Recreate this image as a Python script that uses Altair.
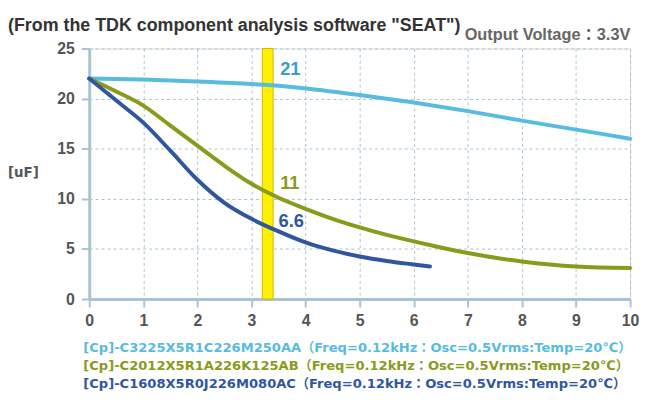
import altair as alt
import pandas as pd

# ---- data ----
series_names = [
    "[Cp]-C3225X5R1C226M250AA（Freq=0.12kHz：Osc=0.5Vrms:Temp=20℃）",
    "[Cp]-C2012X5R1A226K125AB（Freq=0.12kHz：Osc=0.5Vrms:Temp=20℃）",
    "[Cp]-C1608X5R0J226M080AC（Freq=0.12kHz：Osc=0.5Vrms:Temp=20℃）",
]
series_colors = ["#58bbe0", "#8a9a1a", "#2f57a0"]
label_colors = ["#3b9fc4", "#8a9a1a", "#2f57a0"]

s1_x = [0, 1, 2, 3, 3.3, 4, 5, 6, 7, 8, 9, 10]
s1_y = [22.0, 21.9, 21.7, 21.45, 21.35, 21.0, 20.35, 19.6, 18.75, 17.8, 16.9, 16.0]

s2_x = [0, 0.5, 1, 1.5, 2, 2.5, 3, 3.5, 4, 4.5, 5, 5.5, 6, 6.5, 7, 8, 9, 10]
s2_y = [22.0, 20.7, 19.3, 17.3, 15.3, 13.3, 11.5, 10.1, 9.0, 8.0, 7.15, 6.4, 5.75, 5.15, 4.6, 3.75, 3.25, 3.1]

s3_x = [0, 0.5, 1, 1.5, 2, 2.5, 3, 3.5, 4, 4.5, 5, 5.5, 6, 6.3]
s3_y = [22.0, 19.8, 17.6, 14.8, 11.9, 9.6, 8.0, 6.75, 5.65, 4.85, 4.25, 3.8, 3.45, 3.25]

band_lo, band_hi = 3.2, 3.4

value_labels = ["21", "11", "6.6"]
value_label_x = [3.53, 3.53, 3.5]
value_label_y = [22.9, 11.55, 7.75]

title_text = '(From the TDK component analysis software "SEAT")'
subtitle_text = "Output Voltage：3.3V"
y_unit = "[uF]"

x_ticks = [i * 0.5 for i in range(21)]
y_ticks = [i * 2.5 for i in range(11)]

# ---- tables ----
rows = []
for name, xs_, ys_ in zip(series_names, [s1_x, s2_x, s3_x], [s1_y, s2_y, s3_y]):
    for xv, yv in zip(xs_, ys_):
        rows.append({"series": name, "x": xv, "y": yv})
df = pd.DataFrame(rows)

band_df = pd.DataFrame({"x": [band_lo], "x2": [band_hi], "y": [0], "y2": [25]})
lab_df = pd.DataFrame({"t": value_labels, "y": value_label_y, "c": label_colors,
                       "x": value_label_x})

FONT = "Liberation Sans, Arial, Noto Sans CJK JP, sans-serif"
LFONT = "DejaVu Sans, Noto Sans CJK JP, sans-serif"
AX = "#a9c3d5"

xs = alt.Scale(domain=[0, 10], nice=False)
ys = alt.Scale(domain=[0, 25], nice=False)

x_axis = alt.Axis(values=x_ticks, labelExpr="datum.value % 1 == 0 ? datum.label : ''",
                  title=None, grid=True, gridDash=[3, 3], gridColor=AX, gridWidth=1,
                  domainColor=AX, domainWidth=3, tickColor=AX, tickWidth=2, tickSize=8,
                  labelFont=FONT, labelFontSize=16, labelFontWeight="bold",
                  labelColor="#555555", labelOverlap=False, labelFlush=False, labelPadding=6)
y_axis = alt.Axis(values=y_ticks, labelExpr="datum.value % 5 == 0 ? datum.label : ''",
                  title=None, grid=True, gridDash=[3, 3], gridColor=AX, gridWidth=1,
                  domainColor=AX, domainWidth=3, tickColor=AX, tickWidth=2, tickSize=8,
                  labelFont=FONT, labelFontSize=16, labelFontWeight="bold",
                  labelColor="#555555", labelOverlap=False, labelFlush=False, labelPadding=7)

band = alt.Chart(band_df).mark_rect(color="#fff000", stroke="#d8b400", strokeWidth=1).encode(
    x=alt.X("x:Q", scale=xs, axis=x_axis), x2="x2:Q",
    y=alt.Y("y:Q", scale=ys, axis=y_axis), y2="y2:Q")

lines = alt.Chart(df).mark_line(strokeWidth=4, interpolate="monotone", strokeCap="round").encode(
    x=alt.X("x:Q", scale=xs),
    y=alt.Y("y:Q", scale=ys),
    color=alt.Color("series:N", scale=alt.Scale(domain=series_names, range=series_colors),
                    legend=None))

labels = alt.Chart(lab_df).mark_text(font=FONT, fontSize=18.5, fontWeight="bold",
                                     align="left", baseline="middle").encode(
    x=alt.X("x:Q", scale=xs), y=alt.Y("y:Q", scale=ys),
    text="t:N", color=alt.Color("c:N", scale=None))

legend_y = [306, 325, 343]
legend_layers = []
for name, col, ly in zip(series_names, series_colors, legend_y):
    legend_layers.append(
        alt.Chart(pd.DataFrame({"t": [name]})).mark_text(
            font=LFONT, fontSize=13.2, fontWeight="bold", align="left",
            baseline="alphabetic", color=col).encode(
            x=alt.value(-6), y=alt.value(ly), text="t:N"))

title = alt.Chart(pd.DataFrame({"t": [title_text]})).mark_text(
    font=FONT, fontSize=18, fontWeight="bold", align="left", baseline="alphabetic",
    color="#333333").encode(x=alt.value(-82), y=alt.value(-18), text="t:N")

subtitle = alt.Chart(pd.DataFrame({"t": [subtitle_text]})).mark_text(
    font=FONT, fontSize=16.5, fontWeight="bold", align="left", baseline="alphabetic",
    color="#666666").encode(x=alt.value(379), y=alt.value(-9), text="t:N")

unit = alt.Chart(pd.DataFrame({"t": [y_unit]})).mark_text(
    font=LFONT, fontSize=13.5, fontWeight="bold", align="left", baseline="middle",
    color="#555555").encode(x=alt.value(-82), y=alt.value(126), text="t:N")

chart = alt.layer(band, lines, labels, *legend_layers, title, subtitle, unit).properties(
    width=546, height=253,
    autosize=alt.AutoSizeParams(type="none"),
    padding={"left": 82, "top": 39, "right": 10, "bottom": 94},
).configure_view(stroke=None).configure(background="white")

chart.save("out.html", embed_options={"renderer": "svg", "actions": False})
